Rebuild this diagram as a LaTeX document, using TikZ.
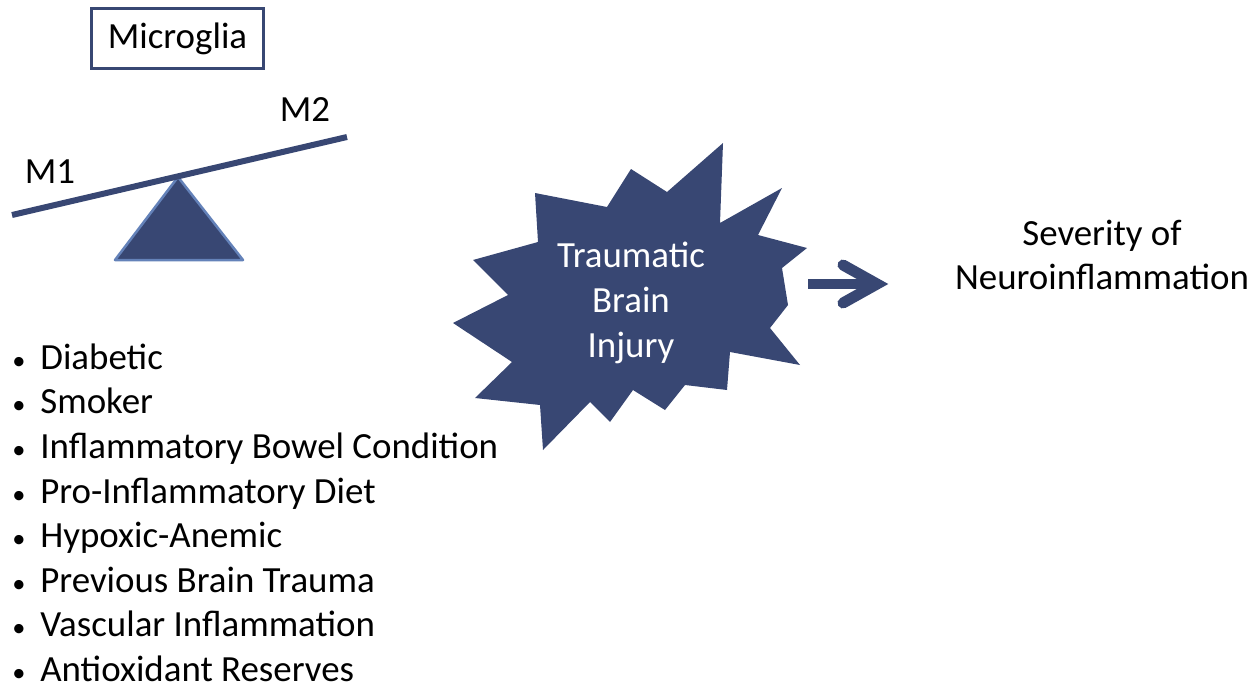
\documentclass[tikz,border=0pt]{standalone}
\usepackage{fontspec}
\setmainfont{Carlito}
\usetikzlibrary{calc}
\definecolor{navy}{RGB}{56,71,115}
\definecolor{rim}{RGB}{100,130,185}

\begin{document}
\begin{tikzpicture}[
      x=0.02cm, y=-0.02cm,
      font=\fontsize{21}{25.4}\selectfont,
      txt/.style   ={inner sep=0pt, align=center},
      item/.style  ={inner sep=0pt, anchor=mid west},
      frame/.style ={rectangle, draw=navy, line width=0.06cm, minimum width=3.46cm, minimum height=1.22cm},
      beam/.style  ={draw=navy, line width=0.12cm},
      fulcrum/.style={fill=navy, draw=rim, line width=0.05cm, line join=round},
      burst/.style ={fill=navy},
      shaft/.style ={draw=navy, line width=0.2cm},
      barb/.style  ={draw=navy, line width=0.22cm, line cap=round, line join=miter}
    ]
    \useasboundingbox (0,0) rectangle (1254,683);
    % --- microglia balance ---
    \node[frame] (mic) at (177.5,38.5) {Microglia};
    \coordinate (bL) at (12,215);
    \coordinate (bR) at (347,137);
    \coordinate (apex) at (178,177);
    \draw[fulcrum] (apex) -- (243,260) -- (115,260) -- cycle;
    \draw[beam] (bL) -- (bR);
    \node[txt] (m1) at (50,172) {M1};
    \node[txt] (m2) at (305,110) {M2};
    % --- starburst ---
    \fill[burst] (723,143) -- (720,223) -- (782,188) -- (758,235) -- (807,248)
      -- (782,268) -- (788,305) -- (770,328) -- (800,365) -- (730,352)
      -- (727,390) -- (685,385) -- (665,410) -- (633,390) -- (610,422)
      -- (590,402) -- (543,450) -- (540,405) -- (475,398) -- (512,362)
      -- (453,323) -- (508,295) -- (473,260) -- (538,242) -- (535,193)
      -- (607,207) -- (631,169) -- (667,192) -- cycle;
    \node[txt, text=white] (tbi) at (631,303) {Traumatic\\Brain\\Injury};
    % --- arrow and outcome ---
    \coordinate (arrS) at (808,284);
    \coordinate (arrE) at (877,284);
    \draw[shaft] (arrS) -- (arrE);
    \draw[barb] ($(arrE)+(-34,-19)$) -- (arrE) -- ($(arrE)+(-34,19)$);
    \node[txt] (sev) at (1102,255) {Severity of\\Neuroinflammation};
    % --- risk factors ---
    \foreach \t [count=\i] in {Diabetic, Smoker, Inflammatory Bowel Condition,
        Pro-Inflammatory Diet, Hypoxic-Anemic, Previous Brain Trauma,
        Vascular Inflammation, Antioxidant Reserves}
      \node[item] (it\i) at (12, 320.4+44.6*\i)
        {\makebox[0.56cm][l]{\fontsize{15}{15}\selectfont\textbullet}\t};
  \end{tikzpicture}
\end{document}
